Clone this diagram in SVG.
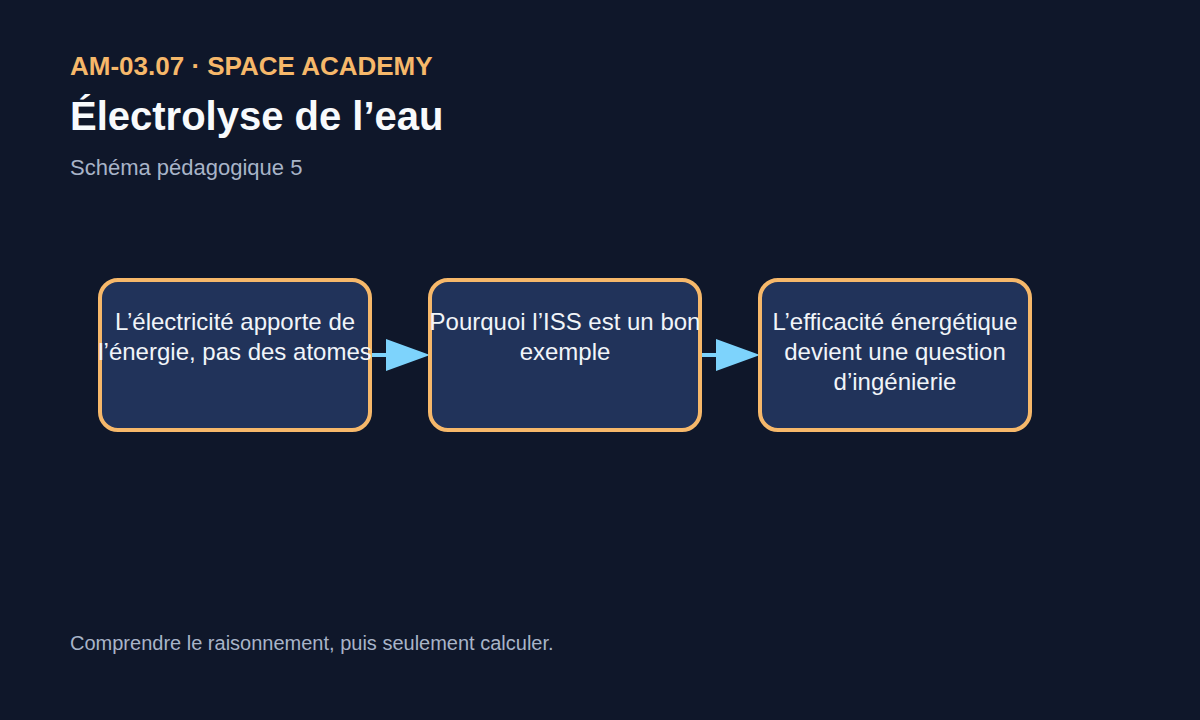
<svg xmlns="http://www.w3.org/2000/svg" width="1200" height="720" viewBox="0 0 1200 720">
<defs>
<style>
.bg{fill:#0f172a}
.node rect{fill:#21335a;stroke:#f6b86a;stroke-width:4}
.node text{font-family:"Liberation Sans",Arial,sans-serif;font-size:24px;fill:#f1f5f9;text-anchor:middle}
.edge{stroke:#7dd3fc;stroke-width:4;fill:none}
.kicker{font-family:"Liberation Sans",Arial,sans-serif;font-size:26px;font-weight:bold;fill:#f6b86a}
.title{font-family:"Liberation Sans",Arial,sans-serif;font-size:40px;font-weight:bold;fill:#f8fafc}
.sub{font-family:"Liberation Sans",Arial,sans-serif;font-size:22px;fill:#a8b4c8}
.foot{font-family:"Liberation Sans",Arial,sans-serif;font-size:20px;fill:#a8b4c8}
</style>
</defs>
<rect class="bg" x="0" y="0" width="1200" height="720"/>
<text class="kicker" x="70" y="75">AM-03.07 · SPACE ACADEMY</text>
<text class="title" x="70" y="130">Électrolyse de l’eau</text>
<text class="sub" x="70" y="175">Schéma pédagogique 5</text>
<g id="connectors">
<line class="edge" x1="370" y1="355" x2="388" y2="355"/>
<path d="M386,339 L430,355 L386,371 z" fill="#7dd3fc"/>
<line class="edge" x1="700" y1="355" x2="718" y2="355"/>
<path d="M716,339 L760,355 L716,371 z" fill="#7dd3fc"/>
</g>
<g id="node1" class="node">
<rect x="100" y="280" width="270" height="150" rx="18"/>
<text x="235" y="330">L’électricité apporte de</text>
<text x="235" y="360">l’énergie, pas des atomes</text>
</g>
<g id="node2" class="node">
<rect x="430" y="280" width="270" height="150" rx="18"/>
<text x="565" y="330">Pourquoi l’ISS est un bon</text>
<text x="565" y="360">exemple</text>
</g>
<g id="node3" class="node">
<rect x="760" y="280" width="270" height="150" rx="18"/>
<text x="895" y="330">L’efficacité énergétique</text>
<text x="895" y="360">devient une question</text>
<text x="895" y="390">d’ingénierie</text>
</g>
<text class="foot" x="70" y="650">Comprendre le raisonnement, puis seulement calculer.</text>
</svg>
